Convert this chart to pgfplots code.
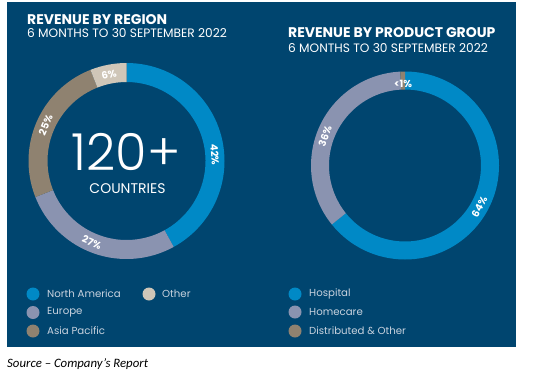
\documentclass[border=0pt]{standalone}
\usepackage{pgfplots}
\pgfplotsset{compat=1.18}
\usepackage{fontspec}
\setmainfont{Poppins}
\newfontfamily\lightfont{Poppins}[UprightFont={* Light}]
\newfontfamily\srcfont{Carlito}
\definecolor{bg}{HTML}{00456F}
\definecolor{cNA}{HTML}{0089C6}
\definecolor{cEU}{HTML}{8A93B0}
\definecolor{cAP}{HTML}{8F8270}
\definecolor{cOT}{HTML}{CFC6B8}
\definecolor{legtxt}{HTML}{C8D2DE}
% ring segment: cx cy R r th1 th2 color (th clockwise from top, degrees)
\newcommand{\ringseg}[7]{%
  \fill[#7] (axis cs:{#1+#3*cos(90-(#5))},{#2+#3*sin(90-(#5))})
    arc[start angle={90-(#5)}, end angle={90-(#6)}, radius=#3pt]
    -- (axis cs:{#1+#4*cos(90-(#6))},{#2+#4*sin(90-(#6))})
    arc[start angle={90-(#6)}, end angle={90-(#5)}, radius=#4pt] -- cycle;}
% donut: cx cy R r list of value/colour (percent)
\newcommand{\donut}[5]{%
  \gdef\cum{0}%
  \foreach \v/\c in {#5}{%
    \pgfmathsetmacro\thA{3.6*\cum}%
    \pgfmathsetmacro\nc{\cum+\v}%
    \pgfmathsetmacro\thB{3.6*\nc}%
    \ringseg{#1}{#2}{#3}{#4}{\thA}{\thB}{\c}%
    \global\let\cum\nc}}
\begin{document}
\begin{tikzpicture}
\begin{axis}[x=1pt, y=1pt, xmin=0, xmax=546, ymin=0, ymax=376,
  hide axis, scale only axis, clip=false, anchor=origin, at={(0,0)}]
\pgfplotsextra{
  \fill[bg] (axis cs:7,29) rectangle (axis cs:516,374);
  % Revenue by region: North America, Europe, Asia Pacific, Other
  \donut{126.5}{215}{98}{79}{42/cNA, 27/cEU, 25/cAP, 6/cOT}
  % Revenue by product group: Hospital, Homecare, Distributed & Other
  \donut{405}{210.5}{94}{76}{64.2/cNA, 35/cEU, 0.8/cAP}
  \begin{scope}[every node/.style={text=white, font=\fontsize{10}{11}\selectfont\bfseries, inner sep=0pt}]
  \node[rotate=-86] at (axis cs:{126.5+88.5*cos(90-86)},{215+88.5*sin(90-86)}) {42\%};
  \node[rotate=-23] at (axis cs:{126.5+88.5*cos(90-203)},{215+88.5*sin(90-203)}) {27\%};
  \node[rotate=66] at (axis cs:{126.5+88.5*cos(90-294)},{215+88.5*sin(90-294)}) {25\%};
  \node[rotate=11.4] at (axis cs:{126.5+88.5*cos(90-348.6)},{215+88.5*sin(90-348.6)}) {6\%};
  \node[rotate=61] at (axis cs:{405+85*cos(90-119)},{210.5+85*sin(90-119)}) {64\%};
  \node[rotate=70] at (axis cs:{405+85*cos(90-290)},{210.5+85*sin(90-290)}) {36\%};
  \node at (axis cs:403,292) {<1\%};
  \end{scope}
  \node[text=white, font=\lightfont\fontsize{51}{51}\selectfont, anchor=base, inner sep=0pt] at (axis cs:126,206) {120+};
  \node[text=white, font=\fontsize{14}{14}\selectfont, anchor=base, inner sep=0pt] at (axis cs:127.5,183) {COUNTRIES};
  \begin{scope}[every node/.style={text=white, anchor=base west, inner sep=0pt}]
  \node[font=\fontsize{14}{14}\selectfont\bfseries] at (axis cs:27,352) {REVENUE BY REGION};
  \node[font=\fontsize{12.2}{12}\selectfont] at (axis cs:27,338) {6 MONTHS TO 30 SEPTEMBER 2022};
  \node[font=\fontsize{14}{14}\selectfont\bfseries] at (axis cs:288,339) {REVENUE BY PRODUCT GROUP};
  \node[font=\fontsize{12.2}{12}\selectfont] at (axis cs:288,324) {6 MONTHS TO 30 SEPTEMBER 2022};
  \end{scope}
  \begin{scope}[every node/.style={text=legtxt, anchor=west, inner sep=0pt, font=\fontsize{10.2}{11}\selectfont}]
  \fill[cNA] (axis cs:33,82) circle[radius=6.5pt]; \node at (axis cs:47,82) {North America};
  \fill[cEU] (axis cs:33,63.5) circle[radius=6.5pt]; \node at (axis cs:47,63.5) {Europe};
  \fill[cAP] (axis cs:33,45) circle[radius=6.5pt]; \node at (axis cs:47,45) {Asia Pacific};
  \fill[cOT] (axis cs:149,82) circle[radius=6.5pt]; \node at (axis cs:162,82) {Other};
  \fill[cNA] (axis cs:295,82) circle[radius=6.5pt]; \node at (axis cs:309,82) {Hospital};
  \fill[cEU] (axis cs:295,64) circle[radius=6.5pt]; \node at (axis cs:309,64) {Homecare};
  \fill[cAP] (axis cs:295,45) circle[radius=6.5pt]; \node at (axis cs:309,45) {Distributed \& Other};
  \end{scope}
  \node[anchor=base west, inner sep=0pt, font=\srcfont\itshape\fontsize{12.8}{13}\selectfont] at (axis cs:7,9) {Source – Company’s Report};
}
\end{axis}
\pgfresetboundingbox
\path (0,0) rectangle (546pt,376pt);
\end{tikzpicture}
\end{document}
